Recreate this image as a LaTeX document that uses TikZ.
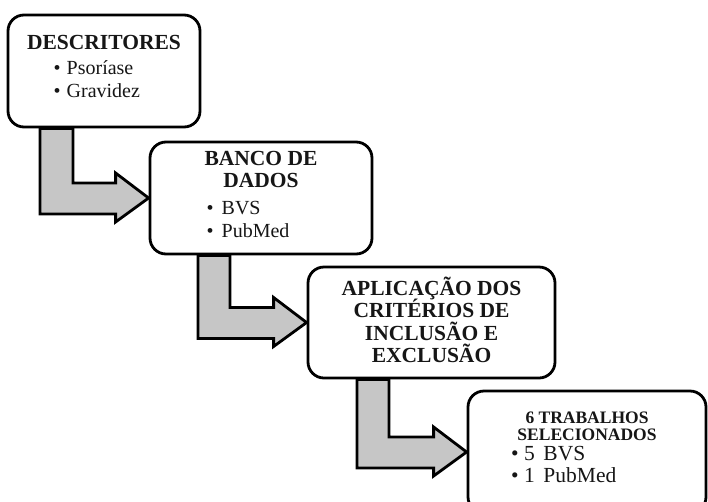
\documentclass[tikz,border=0pt]{standalone}
\usepackage{fontspec}
\setmainfont{Liberation Serif}
\usetikzlibrary{calc,backgrounds}
\definecolor{arrowgray}{RGB}{198,198,198}
\definecolor{ink}{RGB}{22,22,22}
\newcommand{\flowarrow}[4]{%
  \path (#2.west) coordinate (tip)
        ($(tip)+(-33,-25)$) coordinate (ht)
        ($(tip)+(-33,24)$) coordinate (hb)
        ($(tip)+(-33,-15)$) coordinate (bt)
        ($(tip)+(-33,16)$) coordinate (bb);
  \draw[arrowbody] (tip) -- (hb) -- (bb) -- (#3,0 |- bb) -- (#3,0 |- #1.south)
     -- (#4,0 |- #1.south) -- (#4,0 |- bt) -- (bt) -- (ht) -- cycle;
}
\begin{document}
\begin{tikzpicture}[x=1pt,y=-1pt,
  box/.style={draw=black, line width=2.8pt, rounded corners=16pt, fill=white, inner sep=0pt},
  arrowbody/.style={draw=black, line width=2.8pt, fill=arrowgray, line join=miter},
  head/.style={font=\bfseries\fontsize{21.5}{22}\selectfont, text=ink, inner sep=0pt, anchor=base},
  smallhead/.style={font=\bfseries\fontsize{17.5}{18}\selectfont, text=ink, inner sep=0pt, anchor=base},
  item/.style={font=\fontsize{20}{22}\selectfont, text=ink, inner sep=0pt, anchor=base west},
  bigitem/.style={font=\fontsize{21.5}{22}\selectfont, text=ink, inner sep=0pt, anchor=base west}]
\useasboundingbox (0,0) rectangle (708,501);

% boxes
\node[box, minimum width=192pt, minimum height=112pt] (b1) at (104,71) {};
\node[box, minimum width=222pt, minimum height=112pt] (b2) at (261,198) {};
\node[box, minimum width=247pt, minimum height=111pt] (b3) at (431.5,322.5) {};
\node[box, minimum width=238pt, minimum height=122pt] (b4) at (587,452) {};

% block arrows
\begin{scope}[on background layer]
  \flowarrow{b1}{b2}{40}{73}
  \flowarrow{b2}{b3}{198}{230}
  \flowarrow{b3}{b4}{357}{389}
\end{scope}

% box 1 text
\node[head] (h1) at (104,49) {DESCRITORES};
\node[item] (i1a) at (53.5,74) {•\hspace{0.3em}Psoríase};
\node[item] (i1b) at (53.5,97) {•\hspace{0.3em}Gravidez};

% box 2 text
\node[head] (h2a) at (261,165) {BANCO DE};
\node[head] (h2b) at (261,187) {DADOS};
\node[item] (i2a) at (206.5,214) {•\hspace{0.4em}BVS};
\node[item] (i2b) at (206.5,237) {•\hspace{0.4em}PubMed};

% box 3 text
\node[head] (h3a) at (431.5,295) {APLICAÇÃO DOS};
\node[head] (h3b) at (431.5,317) {CRITÉRIOS DE};
\node[head] (h3c) at (431.5,340) {INCLUSÃO E};
\node[head] (h3d) at (431.5,362) {EXCLUSÃO};

% box 4 text
\node[smallhead] (h4a) at (587,423) {6 TRABALHOS};
\node[smallhead] (h4b) at (587,440) {SELECIONADOS};
\node[bigitem] (i4a) at (511,460) {•\hspace{0.25em}5\hspace{0.4em}BVS};
\node[bigitem] (i4b) at (511,482) {•\hspace{0.25em}1\hspace{0.4em}PubMed};
\end{tikzpicture}
\end{document}
